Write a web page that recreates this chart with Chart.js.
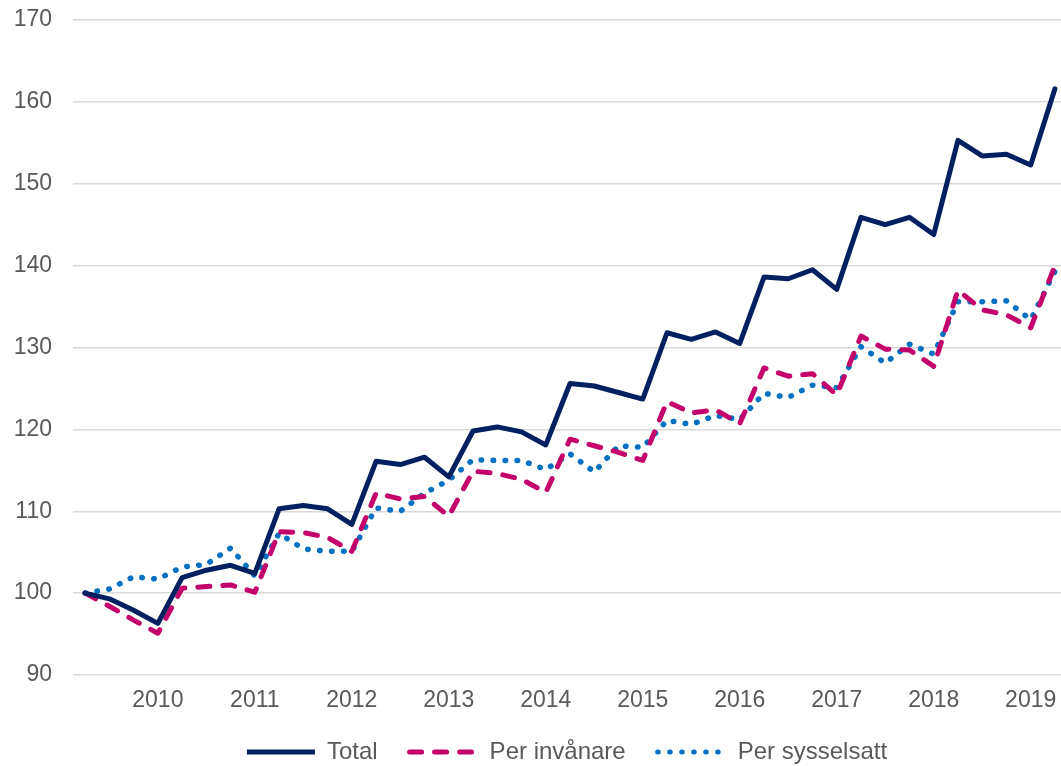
<!DOCTYPE html>
<html>
<head>
<meta charset="utf-8">
<script src="https://cdn.jsdelivr.net/npm/chart.js@4/dist/chart.umd.min.js"></script>
<style>
  html, body { margin: 0; padding: 0; background: #fff; }
  canvas { display: block; }
</style>
</head>
<body>
<canvas id="c" width="1061" height="766"></canvas>
<script>
// quarterly index, first quarter = 100
var xLabels = ['', '', '', '2010', '', '', '', '2011', '', '', '', '2012', '', '', '', '2013',
  '', '', '', '2014', '', '', '', '2015', '', '', '', '2016', '', '', '', '2017',
  '', '', '', '2018', '', '', '', '2019', ''];

var total = [100, 99.3, 97.9, 96.3, 101.9, 102.8, 103.4, 102.4, 110.3, 110.7, 110.3, 108.4,
  116.1, 115.7, 116.6, 114.2, 119.8, 120.3, 119.7, 118.1, 125.6, 125.3, 124.5, 123.7,
  131.8, 131.0, 131.9, 130.5, 138.6, 138.4, 139.5, 137.1, 145.9, 145.0, 145.9, 143.8,
  155.3, 153.4, 153.6, 152.3, 161.6];

var perInvanare = [100, 98.4, 96.7, 95.1, 100.6, 100.8, 101.0, 100.1, 107.5, 107.4, 106.8, 105.1,
  112.2, 111.5, 111.8, 109.4, 114.9, 114.6, 113.9, 112.3, 118.8, 118.0, 117.2, 116.2,
  123.4, 122.0, 122.4, 120.7, 127.5, 126.5, 126.8, 124.2, 131.4, 129.8, 129.7, 127.7,
  137.0, 134.6, 134.0, 132.4, 140.0];

var perSysselsatt = [100, 100.5, 102.0, 101.7, 103.2, 103.5, 105.5, 102.1, 107.3, 105.4, 105.1, 105.1,
  110.4, 110.0, 112.2, 113.8, 116.3, 116.2, 116.2, 115.1, 117.0, 114.8, 118.0, 117.8,
  121.1, 120.6, 121.7, 121.2, 124.4, 123.9, 125.4, 125.1, 130.1, 128.1, 130.4, 129.2,
  135.6, 135.6, 135.7, 133.4, 139.3];

var yTicks = [90, 100, 110, 120, 130, 140, 150, 160, 170];

function pts(arr) {
  return arr.map(function(v, i){ return {x: i, y: v}; });
}

var font = "'Liberation Sans', Arial, sans-serif";
var grey = '#595959';

function noPad(scale) {
  scale.paddingTop = 0; scale.paddingBottom = 0;
  scale.paddingLeft = 0; scale.paddingRight = 0;
}

new Chart(document.getElementById('c'), {
  type: 'line',
  data: {
    datasets: [
      { label: 'Total', data: pts(total), borderColor: '#002060', borderWidth: 5,
        pointRadius: 0, tension: 0, borderJoinStyle: 'round', borderCapStyle: 'round' },
      { label: 'Per invånare', data: pts(perInvanare), borderColor: '#C4006A', borderWidth: 5,
        borderDash: [12, 13], borderCapStyle: 'round', borderJoinStyle: 'round',
        pointRadius: 0, tension: 0 },
      { label: 'Per sysselsatt', data: pts(perSysselsatt), borderColor: '#0070C0', borderWidth: 5.5,
        borderDash: [0.5, 11.5], borderCapStyle: 'round', borderJoinStyle: 'round',
        pointRadius: 0, tension: 0 }
    ]
  },
  options: {
    responsive: false,
    animation: false,
    devicePixelRatio: 1,
    layout: { padding: { top: 20, right: 0, left: 0, bottom: -8 } },
    plugins: {
      tooltip: { enabled: false },
      legend: {
        position: 'bottom',
        fullSize: false,
        labels: {
          usePointStyle: true,
          pointStyle: 'line',
          pointStyleWidth: 68,
          color: grey,
          padding: 32,
          font: { family: font, size: 24 },
          generateLabels: function(chart) {
            return chart.data.datasets.map(function(ds, i){
              return {
                text: ds.label,
                datasetIndex: i,
                strokeStyle: ds.borderColor,
                fillStyle: ds.borderColor,
                lineWidth: 5,
                lineDash: ds.borderDash || [],
                lineCap: i === 0 ? 'butt' : 'round',
                pointStyle: 'line',
                fontColor: grey,
                hidden: false
              };
            });
          }
        }
      }
    },
    scales: {
      x: {
        type: 'linear',
        min: -0.5,
        max: 40.25,
        grid: { display: false },
        border: { display: false },
        afterBuildTicks: function(scale) {
          var t = [];
          xLabels.forEach(function(l, i){ if (l) t.push({value: i}); });
          scale.ticks = t;
        },
        afterFit: function(scale) { scale.height = 33; noPad(scale); },
        ticks: {
          autoSkip: false,
          maxRotation: 0,
          padding: 4,
          color: grey,
          font: { family: font, size: 23 },
          callback: function(v) { return xLabels[v] || ''; }
        }
      },
      y: {
        min: 90,
        max: 170,
        afterBuildTicks: function(scale) {
          scale.ticks = yTicks.map(function(v){ return {value: v}; });
        },
        afterFit: function(scale) { scale.width = 73; noPad(scale); },
        grid: { color: '#d9d9d9', lineWidth: 1.5, drawTicks: false },
        border: { display: false },
        ticks: {
          padding: 21,
          color: grey,
          font: { family: font, size: 23 }
        }
      }
    }
  }
});
</script>
</body>
</html>
